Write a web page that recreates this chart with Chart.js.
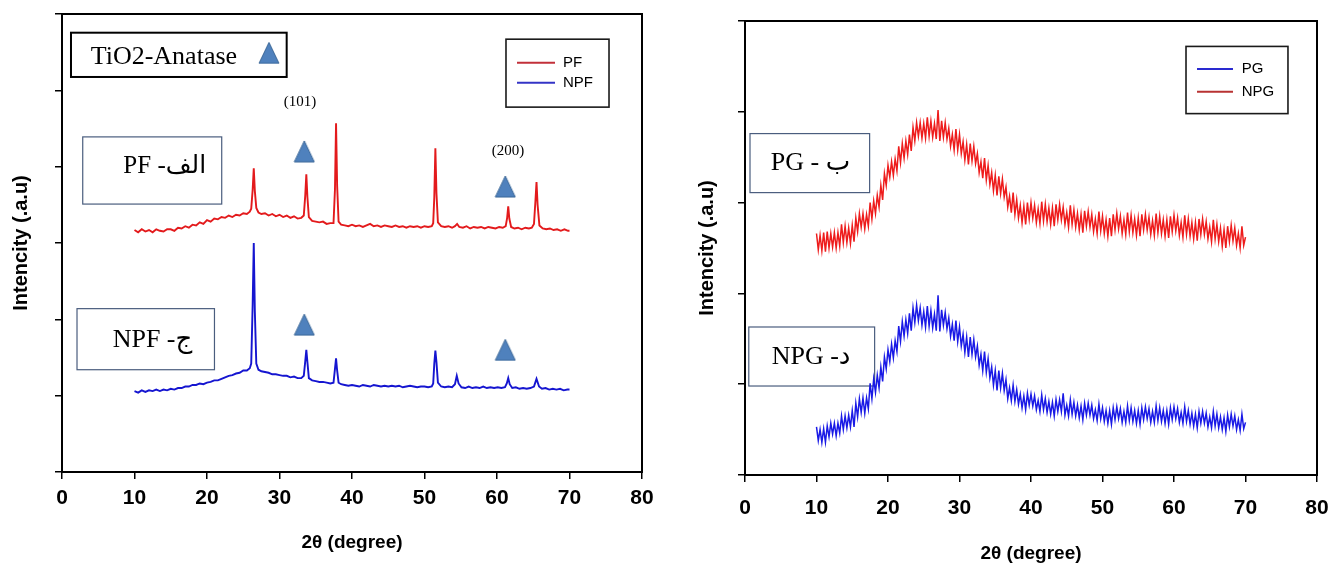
<!DOCTYPE html>
<html>
<head>
<meta charset="utf-8">
<title>XRD</title>
<script src="https://cdn.jsdelivr.net/npm/chart.js@4.4.1/dist/chart.umd.min.js"></script>
<style>
  html, body { margin: 0; padding: 0; background: #fff; }
  body { width: 1329px; height: 563px; position: relative; overflow: hidden; }
  canvas { position: absolute; top: 0; }
  #xrdFilm { left: 0; }
  #xrdGlass { left: 680px; }
</style>
</head>
<body>
<canvas id="xrdFilm" width="660" height="563"></canvas>
<canvas id="xrdGlass" width="649" height="563"></canvas>
<script>
// Диапазон 2θ и шаг делений, общие для обеих панелей
const xMin = 0;
const xMax = 80;
const xStep = 10;

// Панель с плёнками: пары [2θ, интенсивность], интенсивность в делениях оси (0..6)
const filmPF = [
  [10,3.17],[10.5,3.14],[11,3.18],[11.5,3.15],[12,3.17],[12.5,3.14],[13,3.18],[13.5,3.16],[14,3.15],[14.5,3.18],
  [15,3.18],[15.5,3.16],[16,3.2],[16.5,3.19],[17,3.22],[17.5,3.2],[18,3.24],[18.5,3.23],[19,3.27],[19.5,3.25],
  [20,3.3],[20.5,3.28],[21,3.32],[21.5,3.31],[22,3.34],[22.5,3.33],[23,3.36],[23.5,3.34],[24,3.37],[24.5,3.36],
  [25,3.39],[25.5,3.38],[25.9,3.41],[26.1,3.45],[26.3,3.7],[26.45,3.98],[26.6,3.68],[26.8,3.46],[27.1,3.4],
  [27.5,3.38],[28,3.39],[28.5,3.36],[29,3.38],[29.5,3.35],[30,3.37],[30.5,3.34],[31,3.36],[31.5,3.33],[32,3.35],
  [32.5,3.32],[33,3.33],[33.35,3.36],[33.55,3.62],[33.7,3.9],[33.85,3.6],[34.05,3.34],[34.5,3.29],[35,3.28],
  [35.5,3.27],[36,3.28],[36.5,3.25],[37,3.26],[37.45,3.26],[37.65,3.7],[37.8,4.57],[37.95,3.75],[38.15,3.28],
  [38.5,3.24],[39,3.23],[39.5,3.22],[40,3.24],[40.5,3.22],[41,3.23],[41.5,3.21],[42,3.23],[42.5,3.25],[43,3.22],
  [43.5,3.23],[44,3.21],[44.5,3.23],[45,3.22],[45.5,3.21],[46,3.23],[46.5,3.21],[47,3.22],[47.5,3.2],[48,3.22],
  [48.5,3.21],[49,3.22],[49.5,3.2],[50,3.22],[50.5,3.21],[51,3.22],[51.2,3.26],[51.35,3.6],[51.5,4.24],[51.65,3.65],
  [51.85,3.27],[52.3,3.22],[52.8,3.21],[53.3,3.22],[53.8,3.2],[54.2,3.22],[54.5,3.25],[54.8,3.21],[55.3,3.2],
  [55.8,3.22],[56.3,3.19],[56.8,3.21],[57.3,3.2],[57.8,3.21],[58.3,3.19],[58.8,3.21],[59.3,3.2],[59.8,3.19],
  [60.3,3.21],[60.8,3.2],[61.2,3.22],[61.4,3.33],[61.55,3.48],[61.7,3.32],[61.95,3.21],[62.4,3.19],[62.9,3.2],
  [63.4,3.18],[63.9,3.2],[64.4,3.19],[64.8,3.2],[65.1,3.25],[65.3,3.55],[65.45,3.8],[65.6,3.5],[65.85,3.23],
  [66.3,3.19],[66.8,3.18],[67.3,3.19],[67.8,3.17],[68.3,3.18],[68.8,3.16],[69.3,3.18],[69.8,3.16],[70,3.16]
];

const filmNPF = [
  [10,1.06],[10.5,1.04],[11,1.07],[11.5,1.05],[12,1.07],[12.5,1.06],[13,1.08],[13.5,1.06],[14,1.08],[14.5,1.07],
  [15,1.09],[15.5,1.08],[16,1.1],[16.5,1.1],[17,1.12],[17.5,1.12],[18,1.14],[18.5,1.14],[19,1.16],[19.5,1.15],
  [20,1.17],[20.5,1.18],[21,1.2],[21.5,1.2],[22,1.22],[22.5,1.24],[23,1.26],[23.5,1.27],[24,1.29],[24.5,1.3],
  [25,1.33],[25.5,1.33],[25.9,1.36],[26.1,1.42],[26.3,2.2],[26.45,3.0],[26.6,2.1],[26.8,1.42],[27.1,1.34],
  [27.5,1.32],[28,1.31],[28.5,1.3],[29,1.28],[29.5,1.28],[30,1.27],[30.5,1.26],[31,1.26],[31.5,1.24],[32,1.25],
  [32.5,1.23],[33,1.23],[33.35,1.26],[33.55,1.45],[33.7,1.6],[33.85,1.44],[34.05,1.23],[34.5,1.2],[35,1.19],
  [35.5,1.18],[36,1.18],[36.5,1.17],[37,1.16],[37.45,1.17],[37.65,1.35],[37.8,1.49],[37.95,1.33],[38.15,1.17],
  [38.5,1.15],[39,1.14],[39.5,1.13],[40,1.14],[40.5,1.13],[41,1.12],[41.5,1.14],[42,1.13],[42.5,1.12],[43,1.14],
  [43.5,1.13],[44,1.12],[44.5,1.13],[45,1.12],[45.5,1.13],[46,1.12],[46.5,1.13],[47,1.11],[47.5,1.12],[48,1.13],
  [48.5,1.12],[49,1.11],[49.5,1.12],[50,1.12],[50.5,1.11],[51,1.12],[51.2,1.16],[51.35,1.42],[51.5,1.59],
  [51.65,1.44],[51.85,1.17],[52.3,1.12],[52.8,1.11],[53.3,1.12],[53.8,1.11],[54.2,1.15],[54.45,1.26],[54.7,1.16],
  [55.1,1.11],[55.6,1.1],[56.1,1.12],[56.6,1.1],[57.1,1.11],[57.6,1.1],[58.1,1.12],[58.6,1.1],[59.1,1.11],
  [59.6,1.1],[60.1,1.11],[60.6,1.1],[61.1,1.11],[61.35,1.16],[61.55,1.23],[61.75,1.15],[62.1,1.1],[62.6,1.11],
  [63.1,1.09],[63.6,1.1],[64.1,1.09],[64.6,1.1],[65.1,1.12],[65.45,1.22],[65.8,1.12],[66.2,1.09],[66.7,1.1],
  [67.2,1.08],[67.7,1.09],[68.2,1.08],[68.7,1.09],[69.2,1.07],[69.7,1.08],[70,1.08]
];

// Метки анатаза над пиками (101) и (200) и значок в подписи
const anatasePeaks = [[33.42,4.2],[61.14,3.74],[33.42,1.93],[61.14,1.6]];
const anataseKey = [[28.55,5.49]];

// Панель со стёклами: равномерная съёмка от 10° с шагом 0.25°, интенсивность в делениях (0..5)
const glassStart = 10;
const glassStep = 0.25;

const glassPG = [
  0.53,0.38,0.50,0.36, 0.51,0.36,0.54,0.42, 0.57,0.45,0.57,0.43, 0.57,0.46,0.65,0.50,
  0.65,0.52,0.66,0.53, 0.71,0.53,0.79,0.64, 0.84,0.69,0.85,0.68, 0.85,0.73,1.01,0.84,
  1.06,0.91,1.10,0.96, 1.19,1.03,1.30,1.17, 1.38,1.25,1.44,1.29, 1.48,1.36,1.64,1.47,
  1.69,1.53,1.71,1.56, 1.78,1.59,1.84,1.68, 1.87,1.70,1.84,1.65, 1.80,1.63,1.86,1.64,
  1.81,1.62,1.77,1.59, 1.98,1.58,1.82,1.65, 1.79,1.61,1.73,1.53, 1.66,1.48,1.70,1.47,
  1.63,1.42,1.55,1.35, 1.52,1.30,1.52,1.33, 1.49,1.30,1.42,1.21, 1.33,1.15,1.36,1.13,
  1.28,1.07,1.19,0.99, 1.15,0.93,1.15,0.96, 1.12,0.93,1.05,0.84, 0.96,0.82,0.99,0.81,
  0.94,0.78,0.89,0.74, 0.87,0.72,0.90,0.77, 0.89,0.76,0.87,0.72, 0.82,0.70,0.88,0.72,
  0.84,0.69,0.81,0.67, 0.80,0.65,0.83,0.70, 0.83,0.70,0.90,0.66, 0.77,0.65,0.83,0.67,
  0.80,0.65,0.77,0.63, 0.76,0.61,0.79,0.66, 0.79,0.66,0.77,0.62, 0.72,0.60,0.78,0.62,
  0.74,0.59,0.71,0.57, 0.71,0.56,0.74,0.61, 0.75,0.62,0.73,0.58, 0.70,0.58,0.76,0.60,
  0.74,0.59,0.71,0.57, 0.71,0.56,0.74,0.61, 0.75,0.62,0.73,0.58, 0.70,0.58,0.76,0.60,
  0.74,0.59,0.71,0.57, 0.71,0.56,0.74,0.61, 0.75,0.62,0.73,0.58, 0.69,0.57,0.75,0.59,
  0.71,0.56,0.68,0.54, 0.67,0.52,0.70,0.57, 0.70,0.57,0.68,0.53, 0.64,0.52,0.70,0.54,
  0.67,0.52,0.64,0.50, 0.63,0.48,0.66,0.53, 0.67,0.54,0.65,0.50, 0.61,0.49,0.67,0.51,
  0.58
];

const glassNPG = [
  2.66,2.48,2.64,2.47, 2.67,2.46,2.68,2.50, 2.66,2.51,2.67,2.50, 2.67,2.52,2.76,2.56,
  2.74,2.56,2.72,2.55, 2.75,2.57,2.83,2.68, 2.88,2.73,2.88,2.71, 2.87,2.74,3.00,2.82,
  3.02,2.88,3.08,2.95, 3.19,3.03,3.32,3.19, 3.41,3.28,3.45,3.30, 3.48,3.35,3.62,3.44,
  3.65,3.49,3.68,3.53, 3.75,3.57,3.83,3.68, 3.88,3.73,3.88,3.71, 3.87,3.71,3.94,3.73,
  3.90,3.72,3.87,3.70, 4.02,3.68,3.90,3.72, 3.88,3.70,3.82,3.62, 3.75,3.58,3.81,3.58,
  3.75,3.54,3.67,3.47, 3.64,3.42,3.65,3.46, 3.62,3.43,3.54,3.33, 3.45,3.27,3.49,3.25,
  3.41,3.20,3.33,3.13, 3.30,3.08,3.29,3.10, 3.26,3.06,3.17,2.95, 3.07,2.89,3.11,2.87,
  3.03,2.83,2.97,2.78, 2.96,2.76,3.00,2.82, 3.00,2.83,2.97,2.78, 2.93,2.77,3.01,2.80,
  2.98,2.79,2.94,2.76, 2.94,2.74,2.98,2.81, 2.98,2.81,2.95,2.76, 2.89,2.73,2.97,2.76,
  2.92,2.73,2.88,2.70, 2.87,2.67,2.91,2.74, 2.90,2.73,2.87,2.68, 2.82,2.66,2.90,2.69,
  2.85,2.66,2.81,2.63, 2.83,2.63,2.87,2.70, 2.88,2.71,2.85,2.66, 2.81,2.65,2.89,2.68,
  2.86,2.67,2.82,2.64, 2.83,2.63,2.87,2.70, 2.87,2.70,2.84,2.65, 2.80,2.64,2.88,2.67,
  2.85,2.66,2.81,2.63, 2.81,2.61,2.85,2.68, 2.86,2.69,2.83,2.64, 2.78,2.62,2.86,2.65,
  2.82,2.63,2.78,2.60, 2.78,2.58,2.82,2.65, 2.82,2.65,2.79,2.60, 2.73,2.57,2.81,2.60,
  2.76,2.57,2.72,2.52, 2.70,2.50,2.74,2.57, 2.75,2.58,2.72,2.53, 2.66,2.50,2.74,2.53,
  2.62
];

const SANS = '"Liberation Sans", Arial, Helvetica, sans-serif';
const SERIF = '"Liberation Serif", "Times New Roman", "DejaVu Sans", serif';

const pairs = (list) => list.map(([x, y]) => ({ x, y }));
const sweep = (vals) => vals.map((y, i) => ({ x: glassStart + i * glassStep, y }));

// Треугольник-маркер (чуть вытянутый, как в исходной подписи)
function triangleMarker() {
  const c = document.createElement('canvas');
  c.width = 22;
  c.height = 23;
  const g = c.getContext('2d');
  g.beginPath();
  g.moveTo(11, 1);
  g.lineTo(21, 22);
  g.lineTo(1, 22);
  g.closePath();
  g.fillStyle = '#4f81bd';
  g.fill();
  g.strokeStyle = '#3b6797';
  g.lineWidth = 1;
  g.stroke();
  return c;
}
const marker = triangleMarker();

// Рамки с подписями, номера рефлексов и легенда — всё в координатах данных
function notesPlugin(notes) {
  return {
    id: 'notes',
    beforeDatasetsDraw(chart) {
      const { ctx, chartArea: a, scales: { x, y } } = chart;
      const px = (v) => x.getPixelForValue(v);
      const py = (v) => y.getPixelForValue(v);
      ctx.save();

      // верх и правый край рамки (левый и нижний рисуют оси)
      ctx.strokeStyle = '#000';
      ctx.lineWidth = 2;
      ctx.strokeRect(a.left, a.top, a.right - a.left, a.bottom - a.top);

      ctx.textBaseline = 'middle';
      for (const box of notes.boxes) {
        const l = px(box.x0), r = px(box.x1), t = py(box.y0), b = py(box.y1);
        ctx.fillStyle = '#fff';
        ctx.fillRect(l, t, r - l, b - t);
        ctx.strokeStyle = box.stroke;
        ctx.lineWidth = box.width;
        ctx.strokeRect(l, t, r - l, b - t);
        ctx.fillStyle = '#000';
        ctx.font = box.font;
        ctx.textAlign = 'left';
        let tx = px(box.tx);
        for (const part of box.text) {
          ctx.fillText(part, tx, py(box.ty));
          tx += ctx.measureText(part).width;
        }
      }

      ctx.textAlign = 'center';
      ctx.font = `15px ${SERIF}`;
      ctx.fillStyle = '#000';
      for (const lab of notes.labels) {
        ctx.fillText(lab.text, px(lab.x), py(lab.y));
      }

      const lg = notes.legend;
      const l = px(lg.x0), r = px(lg.x1), t = py(lg.y0), b = py(lg.y1);
      ctx.fillStyle = '#fff';
      ctx.fillRect(l, t, r - l, b - t);
      ctx.strokeStyle = '#1a1a1a';
      ctx.lineWidth = 1.6;
      ctx.strokeRect(l, t, r - l, b - t);
      ctx.textAlign = 'left';
      ctx.font = `15px ${SANS}`;
      chart.data.datasets.filter((d) => d.legendColor).forEach((d, i) => {
        const yy = py(lg.rows[i]);
        ctx.strokeStyle = d.legendColor;
        ctx.lineWidth = 2;
        ctx.beginPath();
        ctx.moveTo(px(lg.lineFrom), yy);
        ctx.lineTo(px(lg.lineTo), yy);
        ctx.stroke();
        ctx.fillStyle = '#000';
        ctx.fillText(d.label, px(lg.textAt), yy);
      });
      ctx.restore();
    },
  };
}

function drawXrd(canvasId, cfg) {
  const grid = { drawOnChartArea: false, drawTicks: true, tickLength: 7, color: '#000', lineWidth: 1.5 };
  const border = { display: true, color: '#000', width: 2 };
  return new Chart(document.getElementById(canvasId), {
    type: 'line',
    data: { datasets: cfg.datasets },
    options: {
      responsive: false,
      animation: false,
      events: [],
      layout: { padding: { left: 0, top: cfg.top, right: cfg.right, bottom: 0 } },
      elements: { line: { tension: 0 }, point: { radius: 0 } },
      scales: {
        x: {
          type: 'linear',
          min: xMin,
          max: xMax,
          afterFit(scale) {
            scale.height = cfg.xAxisHeight;
            scale.paddingLeft = 0;
            scale.paddingRight = 0;
          },
          ticks: {
            stepSize: xStep,
            autoSkip: false,
            maxRotation: 0,
            color: '#000',
            padding: cfg.tickPad,
            font: { family: SANS, size: 21, weight: 'bold' },
          },
          grid,
          border,
          title: {
            display: true,
            text: '2θ (degree)',
            color: '#000',
            font: { family: SANS, size: 19, weight: 'bold', lineHeight: 1 },
            padding: { top: 0, bottom: cfg.xTitlePad },
          },
        },
        y: {
          type: 'linear',
          min: 0,
          max: cfg.yMax,
          afterFit(scale) {
            scale.width = cfg.yAxisWidth;
            scale.paddingTop = 0;
            scale.paddingBottom = 0;
          },
          ticks: { stepSize: 1, padding: 0, callback: () => '' },
          grid,
          border,
          title: {
            display: true,
            text: 'Intencity (.a.u)',
            color: '#000',
            font: { family: SANS, size: 20, weight: 'bold', lineHeight: 1 },
            padding: { top: cfg.yTitlePad, bottom: 0 },
          },
        },
      },
      plugins: { legend: { display: false }, tooltip: { enabled: false } },
    },
    plugins: [notesPlugin(cfg.notes)],
  });
}

const markerSet = (points) => ({
  label: 'TiO2-Anatase',
  data: pairs(points),
  showLine: false,
  pointStyle: marker,
  pointRadius: 10,
});

drawXrd('xrdFilm', {
  top: 14,
  right: 18,
  yMax: 6,
  yAxisWidth: 62,
  xAxisHeight: 91,
  tickPad: 7,
  xTitlePad: 11,
  yTitlePad: 11,
  datasets: [
    markerSet(anatasePeaks.concat(anataseKey)),
    { label: 'PF', data: pairs(filmPF), borderColor: '#e31a1c', borderWidth: 1.9, legendColor: '#c2303a' },
    { label: 'NPF', data: pairs(filmNPF), borderColor: '#1515d0', borderWidth: 1.9, legendColor: '#3434c6' },
  ],
  notes: {
    boxes: [
      { x0: 1.24, x1: 30.99, y0: 5.755, y1: 5.175, stroke: '#000', width: 2,
        font: `26px ${SERIF}`, tx: 3.96, ty: 5.43, text: ['TiO2-Anatase'] },
      { x0: 2.86, x1: 22.03, y0: 4.39, y1: 3.51, stroke: '#4a5d7e', width: 1.2,
        font: `25px ${SERIF}`, tx: 8.46, ty: 4.0, text: ['PF -', 'الف'] },
      { x0: 2.07, x1: 21.03, y0: 2.14, y1: 1.34, stroke: '#4a5d7e', width: 1.2,
        font: `26px ${SERIF}`, tx: 6.99, ty: 1.73, text: ['NPF -', 'ج'] },
    ],
    labels: [
      { text: '(101)', x: 32.83, y: 4.85 },
      { text: '(200)', x: 61.52, y: 4.2 },
    ],
    legend: { x0: 61.24, x1: 75.45, y0: 5.67, y1: 4.78, rows: [5.36, 5.1], lineFrom: 62.76, lineTo: 68.0, textAt: 69.1 },
  },
});

drawXrd('xrdGlass', {
  top: 21,
  right: 12,
  yMax: 5,
  yAxisWidth: 65,
  xAxisHeight: 88,
  tickPad: 14,
  xTitlePad: 0,
  yTitlePad: 17,
  datasets: [
    { label: 'PG', data: sweep(glassPG), borderColor: '#1a1ae6', borderWidth: 1.5, legendColor: '#2a2ad0' },
    { label: 'NPG', data: sweep(glassNPG), borderColor: '#ee1c1c', borderWidth: 1.5, legendColor: '#b83232' },
  ],
  notes: {
    boxes: [
      { x0: 0.7, x1: 17.43, y0: 3.76, y1: 3.11, stroke: '#4a5d7e', width: 1.2,
        font: `26px ${SERIF}`, tx: 3.61, ty: 3.43, text: ['PG - ', 'ب'] },
      { x0: 0.53, x1: 18.13, y0: 1.63, y1: 0.98, stroke: '#4a5d7e', width: 1.2,
        font: `26px ${SERIF}`, tx: 3.73, ty: 1.3, text: ['NPG -', 'د'] },
    ],
    labels: [],
    legend: { x0: 61.68, x1: 75.94, y0: 4.72, y1: 3.98, rows: [4.47, 4.22], lineFrom: 63.22, lineTo: 68.25, textAt: 69.47 },
  },
});
</script>
</body>
</html>
